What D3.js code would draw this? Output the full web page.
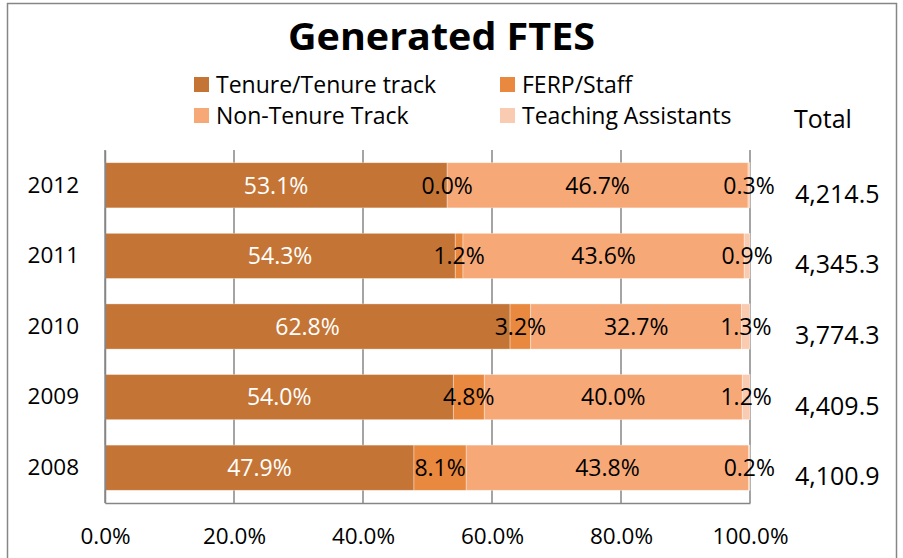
<!DOCTYPE html>
<html>
<head>
<meta charset="utf-8">
<script src="https://cdn.jsdelivr.net/npm/d3@7"></script>
<style>
  body { margin: 0; background: #fff; }
  text { font-family: "Open Sans", Lato, sans-serif; }
</style>
</head>
<body>
<svg width="903" height="558"></svg>
<script>
// chart values
var years = ["2012", "2011", "2010", "2009", "2008"];
var seriesNames = ["Tenure/Tenure track", "FERP/Staff", "Non-Tenure Track", "Teaching Assistants"];
var tenure = [53.1, 54.3, 62.8, 54.0, 47.9];
var ferp = [0.0, 1.2, 3.2, 4.8, 8.1];
var nonTenure = [46.7, 43.6, 32.7, 40.0, 43.8];
var assistants = [0.3, 0.9, 1.3, 1.2, 0.2];
var totals = ["4,214.5", "4,345.3", "3,774.3", "4,409.5", "4,100.9"];
var xTicks = [0, 0.2, 0.4, 0.6, 0.8, 1.0];

var colors = ["#c47535", "#e8893f", "#f6a977", "#f9cbb0"];
var labelColors = ["#fff", "#000", "#000", "#000"];

var rows = years.map(function(y, i) {
  return { year: y, s0: tenure[i], s1: ferp[i], s2: nonTenure[i], s3: assistants[i], total: totals[i] };
});

var svg = d3.select("svg"),
  margin = { top: 150, right: 153, bottom: 55, left: 105 },
  width = +svg.attr("width") - margin.left - margin.right,
  height = +svg.attr("height") - margin.top - margin.bottom;

// outer border
svg.append("rect")
  .attr("x", 7.5).attr("y", 3.5)
  .attr("width", 889).attr("height", 570)
  .attr("fill", "none").attr("stroke", "#868686").attr("stroke-width", 1.5);

svg.append("text")
  .attr("x", 441.5).attr("y", 49.5)
  .attr("text-anchor", "middle")
  .attr("font-size", 38).attr("font-weight", "bold")
  .attr("textLength", 307).attr("lengthAdjust", "spacingAndGlyphs")
  .text("Generated FTES");

// legend 2x2
var legendPos = [[194, 84.5], [500, 84.5], [194, 115.5], [500, 115.5]];
seriesNames.forEach(function(name, i) {
  var lg = svg.append("g").attr("transform", "translate(" + legendPos[i][0] + "," + legendPos[i][1] + ")");
  lg.append("rect").attr("x", 0).attr("y", -7.5).attr("width", 15).attr("height", 15).attr("fill", colors[i]);
  lg.append("text").attr("x", 22).attr("y", 0).attr("dy", "0.36em")
    .attr("font-size", 23).text(name);
});

svg.append("text")
  .attr("x", 794).attr("y", 128)
  .attr("font-size", 25).text("Total");

var g = svg.append("g").attr("transform", "translate(" + margin.left + "," + margin.top + ")");

var x = d3.scaleLinear().domain([0, 1]).range([0, width]);
var y = d3.scaleBand().domain(years).range([0, height]).paddingInner(0.36).paddingOuter(0.18);

// gridlines
g.selectAll(".grid")
  .data(xTicks)
  .enter().append("line")
  .attr("x1", function(d) { return x(d); })
  .attr("x2", function(d) { return x(d); })
  .attr("y1", 0).attr("y2", height)
  .attr("stroke", "#868686").attr("stroke-width", 1.5);

var stack = d3.stack()
  .keys(["s0", "s1", "s2", "s3"])
  .offset(d3.stackOffsetExpand);
var stacked = stack(rows);

var layers = g.selectAll(".layer")
  .data(stacked)
  .enter().append("g")
  .attr("fill", function(d, i) { return colors[i]; });

layers.selectAll("rect")
  .data(function(d) { return d; })
  .enter().append("rect")
  .attr("x", function(d) { return x(d[0]); })
  .attr("y", function(d) { return y(d.data.year); })
  .attr("width", function(d) { return x(d[1]) - x(d[0]); })
  .attr("height", y.bandwidth())
  .attr("stroke", "rgba(255,255,255,0.5)").attr("stroke-width", 0.7);

// data labels
stacked.forEach(function(layer, i) {
  g.selectAll(".lbl" + i)
    .data(layer)
    .enter().append("text")
    .attr("x", function(d) { return (x(d[0]) + x(d[1])) / 2; })
    .attr("y", function(d) { return y(d.data.year) + y.bandwidth() / 2; })
    .attr("dy", "0.36em")
    .attr("text-anchor", "middle")
    .attr("font-size", 23)
    .attr("fill", labelColors[i])
    .text(function(d) { return d.data[layer.key].toFixed(1) + "%"; });
});

// axes
var xAxis = g.append("g")
  .attr("transform", "translate(0," + height + ")")
  .call(d3.axisBottom(x).tickValues(xTicks).tickSize(0).tickPadding(25).tickFormat(d3.format(".1%")));
xAxis.select(".domain").attr("stroke", "#868686").attr("stroke-width", 1.5);
xAxis.selectAll("text").attr("font-size", 22.5).attr("fill", "#000")
  .attr("font-family", "'Open Sans', Lato, sans-serif");

var yAxis = g.append("g")
  .call(d3.axisLeft(y).tickSize(0).tickPadding(26));
yAxis.select(".domain").attr("stroke", "#868686").attr("stroke-width", 1.5);
yAxis.selectAll("text").attr("font-size", 22.5).attr("fill", "#000")
  .attr("font-family", "'Open Sans', Lato, sans-serif");

// totals
g.selectAll(".total")
  .data(rows)
  .enter().append("text")
  .attr("x", width + 45)
  .attr("y", function(d) { return y(d.year) + y.bandwidth() / 2 + 8.5; })
  .attr("dy", "0.36em")
  .attr("font-size", 25)
  .text(function(d) { return d.total; });
</script>
</body>
</html>
